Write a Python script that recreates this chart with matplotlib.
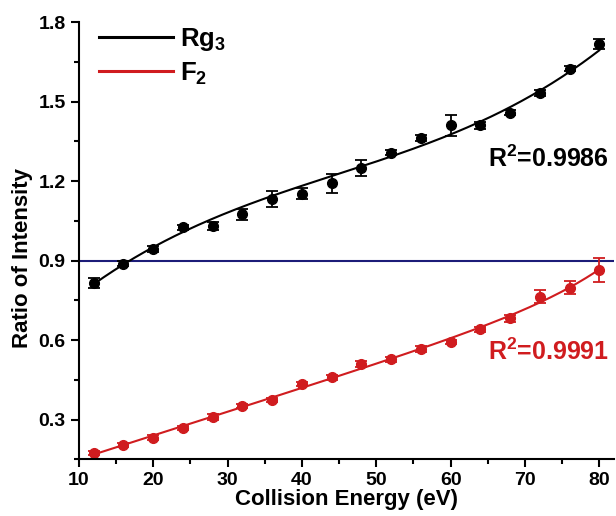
import numpy as np
import matplotlib.pyplot as plt
from matplotlib.ticker import MultipleLocator

plt.rcParams['font.family'] = ['Liberation Sans', 'DejaVu Sans']
plt.rcParams['font.weight'] = 'bold'
plt.rcParams['mathtext.fontset'] = 'custom'
plt.rcParams['mathtext.rm'] = 'Liberation Sans:bold'
plt.rcParams['mathtext.bf'] = 'Liberation Sans:bold'
plt.rcParams['mathtext.default'] = 'bf'

# energia de colision (eV)
energy = np.array([12, 16, 20, 24, 28, 32, 36, 40, 44, 48, 52, 56, 60, 64, 68, 72, 76, 80])

# Rg3
rg3 = np.array([0.815, 0.888, 0.944, 1.025, 1.030, 1.074, 1.132, 1.153, 1.191, 1.251,
                1.308, 1.363, 1.411, 1.410, 1.459, 1.533, 1.624, 1.718])
rg3_err = np.array([0.020, 0.010, 0.010, 0.010, 0.015, 0.020, 0.030, 0.020, 0.035, 0.030,
                    0.010, 0.010, 0.040, 0.012, 0.008, 0.012, 0.010, 0.020])

# F2
f2 = np.array([0.174, 0.204, 0.232, 0.268, 0.309, 0.352, 0.373, 0.433, 0.459, 0.510,
               0.527, 0.566, 0.594, 0.641, 0.682, 0.763, 0.797, 0.864])
f2_err = np.array([0.008, 0.008, 0.008, 0.008, 0.010, 0.008, 0.008, 0.008, 0.008, 0.010,
                   0.010, 0.012, 0.008, 0.010, 0.012, 0.025, 0.025, 0.045])

ref_level = 0.9
r2_rg3 = '0.9986'
r2_f2 = '0.9991'

black = 'black'
red = '#d01c1f'
navy = '#1c1c78'


def exp_fit(x, y, xs):
    # y = a + b*x + c*exp(x/t), busqueda de t en una rejilla
    best = None
    for t in np.linspace(5, 60, 221):
        M = np.column_stack([np.ones_like(x, dtype=float), x, np.exp(x / t)])
        coef, res, _, _ = np.linalg.lstsq(M, y, rcond=None)
        sse = np.sum((M @ coef - y) ** 2)
        if best is None or sse < best[0]:
            best = (sse, t, coef)
    _, t, coef = best
    return coef[0] + coef[1] * xs + coef[2] * np.exp(xs / t)


fig = plt.figure(figsize=(6.16, 5.16), dpi=100)
ax = fig.add_axes([0.128, 0.110, 0.869, 0.847])

xs = np.linspace(energy[0], energy[-1], 300)
fit_rg3 = np.polyval(np.polyfit(energy, rg3, 3, w=1 / rg3_err), xs)
fit_f2 = exp_fit(energy, f2, xs)

ax.axhline(ref_level, color=navy, lw=1.5, zorder=1)

ax.plot(xs, fit_rg3, color=black, lw=1.5, label='Rg$_3$')
ax.plot(xs, fit_f2, color=red, lw=1.5, label='F$_2$')
ax.errorbar(energy, rg3, yerr=rg3_err, fmt='o', color=black, ms=7, capsize=4,
            elinewidth=1.3, capthick=1.3)
ax.errorbar(energy, f2, yerr=f2_err, fmt='o', color=red, ms=7, capsize=4,
            elinewidth=1.3, capthick=1.3)

ax.text(0.99, 1.283, 'R$^2$=' + r2_rg3, transform=ax.get_yaxis_transform(),
        ha='right', va='center', fontsize=18, fontweight='bold', color=black)
ax.text(0.99, 0.555, 'R$^2$=' + r2_f2, transform=ax.get_yaxis_transform(),
        ha='right', va='center', fontsize=18, fontweight='bold', color=red)

ax.set_xlim(10, 82)
ax.set_ylim(0.15, 1.8)
ax.xaxis.set_major_locator(MultipleLocator(10))
ax.xaxis.set_minor_locator(MultipleLocator(5))
ax.yaxis.set_minor_locator(MultipleLocator(0.15))
ax.set_yticks([0.3, 0.6, 0.9, 1.2, 1.5, 1.8])
ax.tick_params(which='major', direction='out', length=6, width=1.5, labelsize=14)
ax.tick_params(which='minor', direction='out', length=3.5, width=1.5)
for lab in ax.get_xticklabels() + ax.get_yticklabels():
    lab.set_fontweight('bold')

for s in ['top', 'right']:
    ax.spines[s].set_visible(False)
for s in ['left', 'bottom']:
    ax.spines[s].set_linewidth(1.5)

ax.set_xlabel('Collision Energy (eV)', fontsize=16, fontweight='bold', labelpad=0)
ax.set_ylabel('Ratio of Intensity', fontsize=16, fontweight='bold', labelpad=-1)
ax.yaxis.set_label_coords(-0.085, 0.46)

leg = ax.legend(loc='upper left', bbox_to_anchor=(-0.006, 1.045), frameon=False,
                fontsize=18.5, handlelength=2.9, handletextpad=0.28, labelspacing=0.3)
for line in leg.get_lines():
    line.set_linewidth(2.2)

fig.savefig('out.png', dpi=100)
